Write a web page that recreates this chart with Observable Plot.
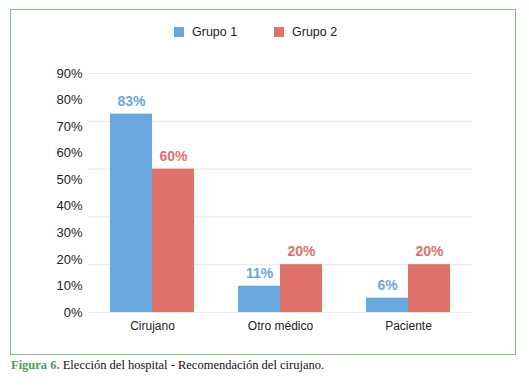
<!DOCTYPE html>
<html>
<head>
<meta charset="utf-8">
<script src="https://cdn.jsdelivr.net/npm/d3@7"></script>
<script src="https://cdn.jsdelivr.net/npm/@observablehq/plot@0.6"></script>
<style>
  html, body { margin: 0; padding: 0; background: #fff; }
  body { width: 529px; height: 386px; position: relative; overflow: hidden; font-family: "Liberation Sans", Arial, sans-serif; }
  #frame { position: absolute; left: 10px; top: 9px; width: 504px; height: 344px; border: 1.5px solid #82bf82; }
  #chart { position: absolute; left: 0; top: 0; }
  #legend { position: absolute; top: 25px; left: 0; width: 529px; height: 16px; font-size: 12.5px; color: #222; }
  .key { position: absolute; top: 0; display: flex; align-items: center; }
  .sw { width: 10px; height: 10px; margin-right: 8px; display: inline-block; }
  #caption { position: absolute; left: 11px; top: 358px; font-family: "Liberation Serif", "DejaVu Serif", serif; font-size: 12.5px; color: #111; white-space: nowrap; }
  #caption b { color: #4f9a5b; }
</style>
</head>
<body>
<div id="frame"></div>
<div id="chart"></div>
<div id="legend"></div>
<div id="caption"><b>Figura 6.</b> Elección del hospital - Recomendación del cirujano.</div>
<script>
const categories = ["Cirujano", "Otro médico", "Paciente"];
const groups = ["Grupo 1", "Grupo 2"];
const grupo1 = [83, 11, 6];
const grupo2 = [60, 20, 20];
const colors = ["#6aa6df", "#e1716b"];
const tickLabels = ["0%", "10%", "20%", "30%", "40%", "50%", "60%", "70%", "80%", "90%"];
const gridValues = [0, 20, 40, 60, 80, 100];

const data = [];
categories.forEach((c, i) => {
  data.push({category: c, group: groups[0], value: grupo1[i]});
  data.push({category: c, group: groups[1], value: grupo2[i]});
});
// the original axis spreads its labels evenly over 0–100
const tickPositions = tickLabels.map((t, i) => i * 100 / (tickLabels.length - 1));

const chart = Plot.plot({
  width: 529,
  height: 345,
  marginTop: 73,
  marginBottom: 33,
  marginLeft: 88,
  marginRight: 57,
  style: {fontFamily: "Liberation Sans, Arial, sans-serif", fontSize: "13px", color: "#222", background: "transparent", overflow: "visible"},
  fx: {domain: categories, padding: 0, label: null, tickSize: 0, tickPadding: 9, axis: "bottom"},
  x: {domain: groups, axis: null, paddingInner: 0, paddingOuter: 0.49},
  y: {domain: [0, 100], ticks: tickPositions, tickFormat: d => tickLabels[Math.round(d * (tickLabels.length - 1) / 100)], tickSize: 0, tickPadding: 6, label: null},
  color: {domain: groups, range: colors},
  marks: [
    Plot.ruleY(gridValues, {stroke: "#ebebeb", strokeWidth: 1.2}),
    Plot.barY(data, {fx: "category", x: "group", y: "value", fill: "group"}),
    Plot.text(data, {fx: "category", x: "group", y: "value", text: d => d.value + "%", fill: "group", dy: -13, fontSize: 14, fontWeight: "bold"})
  ]
});
document.getElementById("chart").appendChild(chart);
d3.select(chart).selectAll('[aria-label^="fx-axis"] text').style("font-size", "12px");

const legend = document.getElementById("legend");
const keyLeft = [174, 274];
groups.forEach((g, i) => {
  const k = document.createElement("div");
  k.className = "key";
  k.style.left = keyLeft[i] + "px";
  k.innerHTML = `<span class="sw" style="background:${colors[i]}"></span><span>${g}</span>`;
  legend.appendChild(k);
});
</script>
</body>
</html>
